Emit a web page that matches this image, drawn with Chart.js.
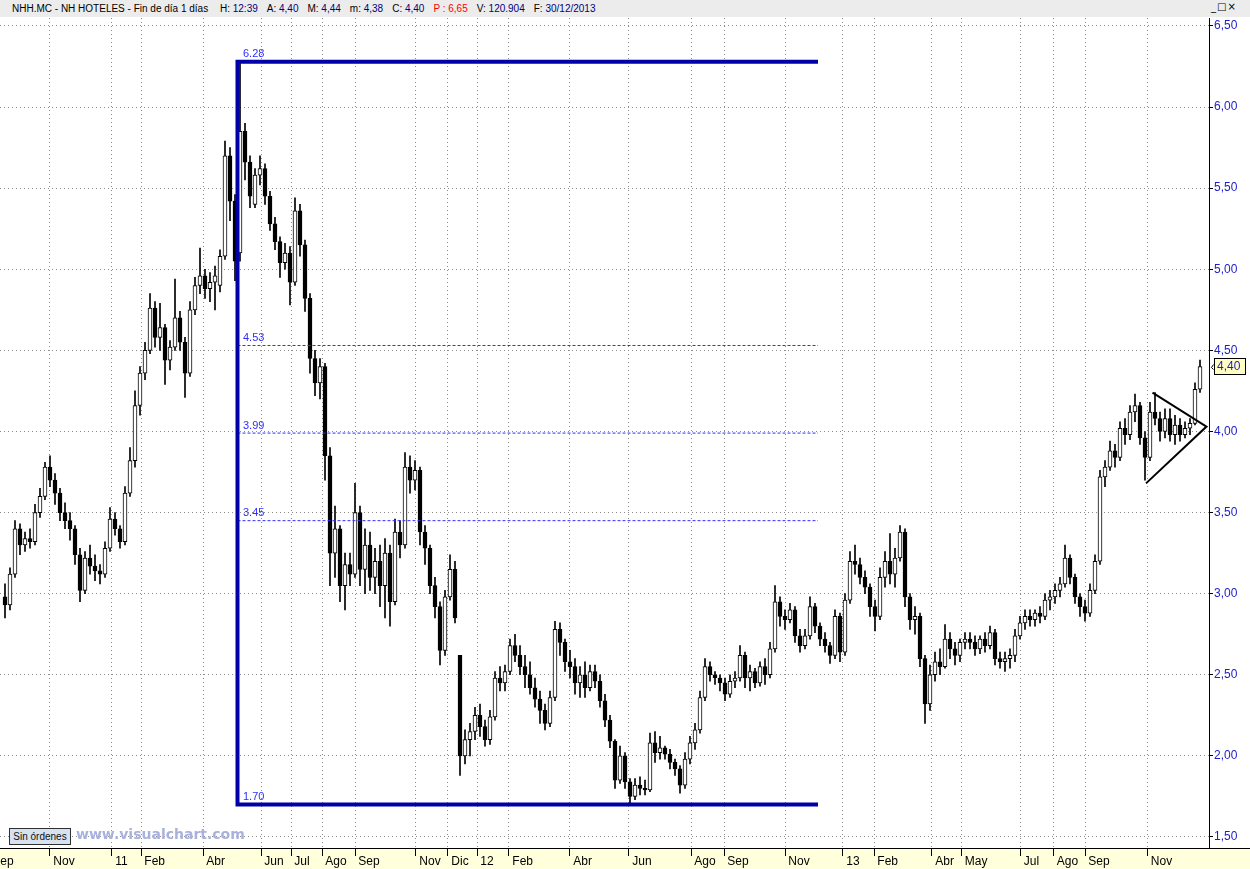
<!DOCTYPE html>
<html>
<head>
<meta charset="utf-8">
<script src="https://cdn.jsdelivr.net/npm/chart.js@4.4.0/dist/chart.umd.min.js"></script>
<style>
html,body{margin:0;padding:0;background:#fff;overflow:hidden;}
#wrap{position:relative;width:1250px;height:869px;}
#c{position:absolute;left:0;top:0;}
#hdr{position:absolute;left:0;top:0;width:1250px;height:17px;background:#ececec;font:10px "Liberation Sans",Arial,sans-serif;color:#000;white-space:nowrap;}
#hdr .t{position:absolute;left:12px;top:3px;}
#hdr .v{color:#000080;}
#hdr .r{color:#ff0000;}
#hdr .g{margin-left:9px;}
#btns{position:absolute;left:1211px;top:1px;font:10px "DejaVu Sans",sans-serif;color:#000;letter-spacing:1px;}
#sin{position:absolute;left:9px;top:828px;width:60px;height:15px;background:#d6e2ef;border:1px solid #303030;font:10px "Liberation Sans",Arial,sans-serif;line-height:15px;text-align:center;color:#101010;}
#wm{position:absolute;left:76px;top:826px;font:bold 14px "DejaVu Sans",sans-serif;color:#a9b2dd;}
</style>
</head>
<body>
<div id="wrap">
<canvas id="c" width="1250" height="869"></canvas>
<div id="hdr"><span class="t">NHH.MC - NH HOTELES - Fin de día 1 días <span class="g">H: <span class="v">12:39</span></span><span class="g">A: <span class="v">4,40</span></span><span class="g">M: <span class="v">4,44</span></span><span class="g">m: <span class="v">4,38</span></span><span class="g">C: <span class="v">4,40</span></span><span class="g r">P : 6,65</span><span class="g">V: <span class="v">120.904</span></span><span class="g">F: <span class="v">30/12/2013</span></span></span></div>
<div id="btns">_□×</div>
<div id="sin">Sin órdenes</div>
<div id="wm">www.visualchart.com</div>
</div>
<script>
// ---- DATA ----
const opens = [
2.98,2.93,3.12,3.40,3.30,3.34,3.32,3.50,3.60,3.78,
3.70,3.62,3.50,3.45,3.40,3.24,3.02,3.22,3.17,3.14,
3.12,3.28,3.46,3.40,3.32,3.62,3.82,4.16,4.36,4.50,
4.76,4.58,4.64,4.44,4.52,4.70,4.55,4.36,4.75,4.90,
4.96,4.88,4.92,4.90,5.08,5.70,5.42,5.10,5.85,5.66,
5.40,5.58,5.62,5.45,5.28,5.17,5.04,5.10,4.92,5.36,
5.15,4.82,4.45,4.30,4.40,3.85,3.25,3.40,3.05,3.18,
3.12,3.50,3.15,3.30,3.10,3.20,3.05,3.25,2.95,3.38,
3.30,3.78,3.70,3.76,3.38,3.28,3.05,2.92,2.65,2.98,
3.15,2.62,2.00,2.10,2.15,2.25,2.18,2.10,2.24,2.48,
2.45,2.52,2.68,2.62,2.55,2.50,2.42,2.35,2.28,2.20,
2.36,2.78,2.70,2.58,2.55,2.45,2.50,2.42,2.52,2.46,
2.34,2.22,2.09,1.85,2.00,1.84,1.75,1.82,1.80,1.79,
2.08,2.02,2.05,2.01,1.96,1.92,1.82,1.98,2.08,2.16,
2.36,2.55,2.50,2.48,2.45,2.38,2.46,2.48,2.62,2.48,
2.52,2.45,2.55,2.50,2.66,2.95,2.86,2.84,2.90,2.74,
2.68,2.74,2.92,2.80,2.72,2.68,2.62,2.86,2.64,2.96,
3.20,3.18,3.10,3.04,2.92,2.86,3.10,3.20,3.12,3.22,
3.38,2.98,2.84,2.86,2.60,2.32,2.50,2.58,2.55,2.72,
2.66,2.62,2.70,2.72,2.70,2.66,2.72,2.68,2.76,2.60,
2.58,2.60,2.62,2.74,2.82,2.86,2.84,2.88,2.86,2.96,
2.98,3.02,3.06,3.22,3.10,2.98,2.92,2.88,3.02,3.20,
3.72,3.78,3.88,3.84,4.02,3.98,4.12,4.16,3.96,3.84,
4.12,4.08,4.00,4.08,3.98,4.04,3.98,4.02,4.05,4.26];
const highs = [
3.06,3.16,3.45,3.43,3.38,3.40,3.55,3.65,3.81,3.85,
3.74,3.65,3.56,3.50,3.42,3.28,3.26,3.30,3.24,3.18,
3.32,3.53,3.50,3.42,3.66,3.90,4.25,4.40,4.55,4.85,
4.80,4.79,4.66,4.56,4.94,4.74,4.58,4.80,4.95,5.13,
5.00,4.98,5.02,5.12,5.79,5.75,5.46,6.28,5.90,5.70,
5.62,5.70,5.65,5.48,5.32,5.20,5.16,5.14,5.44,5.40,
5.18,4.85,4.50,4.45,4.42,3.90,3.54,3.42,3.25,3.25,
3.68,3.54,3.40,3.38,3.28,3.30,3.34,3.30,3.46,3.45,
3.87,3.85,3.82,3.78,3.42,3.30,3.10,2.95,3.02,3.24,
3.20,2.62,2.16,2.20,2.30,2.32,2.22,2.28,2.52,2.55,
2.56,2.72,2.75,2.68,2.62,2.58,2.48,2.40,2.32,2.40,
2.83,2.82,2.72,2.65,2.60,2.55,2.58,2.56,2.56,2.50,
2.38,2.25,2.10,2.06,2.02,1.86,1.86,1.87,1.85,2.14,
2.15,2.12,2.06,2.04,1.98,1.94,2.02,2.12,2.20,2.40,
2.60,2.58,2.52,2.50,2.48,2.50,2.52,2.68,2.64,2.56,
2.54,2.58,2.60,2.70,3.05,2.98,2.90,2.94,2.92,2.78,
2.78,2.98,2.94,2.82,2.76,2.70,2.90,2.88,3.00,3.26,
3.30,3.22,3.14,3.06,2.96,3.16,3.26,3.37,3.28,3.42,
3.40,3.00,2.92,2.88,2.62,2.56,2.64,2.66,2.81,2.76,
2.70,2.72,2.76,2.76,2.74,2.74,2.76,2.80,2.78,2.64,
2.64,2.66,2.78,2.86,2.90,2.90,2.90,2.92,3.00,3.02,
3.06,3.10,3.30,3.24,3.12,3.00,2.96,3.06,3.24,3.76,
3.82,3.94,3.92,4.06,4.08,4.16,4.23,4.18,4.00,4.18,
4.24,4.12,4.14,4.14,4.10,4.08,4.06,4.08,4.30,4.44];
const lows = [
2.85,2.90,3.10,3.24,3.26,3.28,3.30,3.47,3.58,3.66,
3.55,3.45,3.40,3.33,3.18,2.95,3.00,3.12,3.08,3.06,
3.10,3.26,3.36,3.28,3.30,3.60,3.78,4.10,4.32,4.48,
4.52,4.50,4.29,4.38,4.50,4.50,4.21,4.34,4.72,4.85,
4.82,4.80,4.75,4.86,5.06,5.30,4.93,5.05,5.55,5.38,
5.38,5.52,5.40,5.24,5.12,4.95,5.00,4.78,4.90,5.08,
4.74,4.36,4.22,4.20,3.70,3.05,3.10,2.95,2.90,3.05,
3.10,3.05,3.00,3.02,3.00,2.92,2.85,2.80,2.93,3.22,
3.28,3.62,3.64,3.30,3.18,3.00,2.85,2.56,2.62,2.96,
2.82,1.88,1.95,2.00,2.10,2.12,2.06,2.07,2.22,2.40,
2.40,2.50,2.58,2.50,2.42,2.38,2.30,2.20,2.16,2.18,
2.34,2.62,2.52,2.48,2.38,2.36,2.36,2.40,2.42,2.30,
2.18,2.05,1.80,1.83,1.80,1.70,1.73,1.76,1.76,1.78,
1.96,1.98,1.98,1.92,1.88,1.77,1.80,1.95,2.04,2.14,
2.34,2.46,2.44,2.40,2.34,2.36,2.42,2.46,2.42,2.40,
2.42,2.43,2.44,2.48,2.64,2.80,2.78,2.82,2.70,2.64,
2.66,2.72,2.76,2.68,2.64,2.57,2.60,2.58,2.62,2.94,
3.12,3.06,3.00,2.86,2.77,2.84,3.04,3.06,3.04,3.20,
2.92,2.78,2.75,2.55,2.20,2.28,2.46,2.50,2.54,2.60,
2.56,2.58,2.66,2.66,2.62,2.63,2.64,2.66,2.56,2.54,
2.52,2.54,2.58,2.72,2.78,2.80,2.80,2.82,2.84,2.90,
2.94,2.98,3.04,3.06,2.94,2.86,2.83,2.86,3.00,3.18,
3.66,3.76,3.78,3.82,3.92,3.95,4.06,3.92,3.70,3.82,
4.04,3.94,3.96,3.94,3.92,3.94,3.96,3.98,4.04,4.24];
const closes = [
2.93,3.12,3.40,3.30,3.34,3.32,3.50,3.60,3.78,3.70,
3.62,3.50,3.45,3.40,3.24,3.02,3.22,3.17,3.14,3.12,
3.28,3.46,3.40,3.32,3.62,3.82,4.16,4.36,4.50,4.76,
4.58,4.64,4.44,4.52,4.70,4.55,4.36,4.75,4.90,4.96,
4.88,4.92,4.96,5.08,5.70,5.42,5.05,5.85,5.66,5.45,
5.58,5.62,5.45,5.28,5.17,5.04,5.10,4.92,5.36,5.15,
4.82,4.45,4.30,4.40,3.85,3.25,3.40,3.05,3.18,3.12,
3.50,3.15,3.30,3.10,3.20,3.05,3.25,2.95,3.38,3.30,
3.78,3.70,3.76,3.38,3.28,3.05,2.92,2.65,2.98,3.15,
2.85,2.00,2.10,2.15,2.25,2.18,2.10,2.24,2.48,2.45,
2.52,2.68,2.62,2.55,2.50,2.42,2.35,2.28,2.20,2.36,
2.78,2.70,2.58,2.55,2.45,2.50,2.42,2.52,2.46,2.34,
2.22,2.09,1.85,2.00,1.84,1.75,1.82,1.80,1.79,2.08,
2.02,2.05,2.01,1.96,1.92,1.82,1.98,2.08,2.16,2.36,
2.55,2.50,2.48,2.45,2.38,2.46,2.48,2.62,2.48,2.52,
2.45,2.55,2.50,2.66,2.95,2.86,2.84,2.90,2.74,2.68,
2.74,2.92,2.80,2.72,2.68,2.62,2.86,2.64,2.96,3.20,
3.18,3.10,3.04,2.92,2.86,3.10,3.20,3.12,3.22,3.38,
2.98,2.84,2.86,2.60,2.32,2.50,2.58,2.55,2.72,2.66,
2.62,2.70,2.72,2.70,2.66,2.72,2.68,2.76,2.60,2.58,
2.60,2.62,2.74,2.82,2.86,2.84,2.88,2.86,2.96,2.98,
3.02,3.06,3.22,3.10,2.98,2.92,2.88,3.02,3.20,3.72,
3.78,3.88,3.84,4.02,3.98,4.12,4.16,3.96,3.84,4.12,
4.08,4.00,4.08,3.98,4.04,3.98,4.02,4.05,4.26,4.40];

// month ticks (positions in candle-index units) and labels
const monthPos = [-3.2,9.0,21.4,27.2,39.6,51.2,57.2,63.4,70.0,82.2,88.6,94.4,100.8,113.0,124.8,137.2,143.8,156.0,167.6,173.8,185.4,191.3,203.1,209.7,216.0,228.5];
const monthLabels = ['Sep','Nov','11','Feb','Abr','Jun','Jul','Ago','Sep','Nov','Dic','12','Feb','Abr','Jun','Ago','Sep','Nov','13','Feb','Abr','May','Jul','Ago','Sep','Nov'];
const yTicks = [1.5,2.0,2.5,3.0,3.5,4.0,4.5,5.0,5.5,6.0,6.5];
const yTickLabels = ['1,50','2,00','2,50','3,00','3,50','4,00','4,50','5,00','5,50','6,00','6,50'];

// Fibonacci retracement drawing
const fibLevels = [6.28, 4.53, 3.99, 3.45, 1.70];
const fibFrom = 46.5, fibTo = 162.6;
// triangle drawing (candle index, price)
const triX = [229.5, 240.3, 228.2];
const triY = [4.24, 4.03, 3.68];
const lastPrice = 4.40, lastPriceLabel = '4,40';

// ---- BUILD ----
const bodies = closes.map((c,i)=>({x:i, y:[Math.min(opens[i],c), Math.max(opens[i],c)]}));
const wicks = closes.map((c,i)=>({x:i, y:[lows[i], highs[i]]}));
const bodyColors = closes.map((c,i)=> c>=opens[i] ? '#ffffff' : '#000000');

const fibFrame = [{x:fibTo,y:fibLevels[0]},{x:fibFrom,y:fibLevels[0]},{x:fibFrom,y:fibLevels[4]},{x:fibTo,y:fibLevels[4]}];
const dashed = fibLevels.slice(1,4).map(l=>({
  type:'line', data:[{x:fibFrom,y:l},{x:fibTo,y:l}], borderColor:'#3030ff', borderWidth:1,
  borderDash:[3,2], pointRadius:0, fill:false, tension:0
}));

const chrome = {
  id:'chrome',
  beforeDraw(chart){
    const {ctx,width,height} = chart;
    const xa = chart.scales.x;
    ctx.save();
    ctx.fillStyle='#ffffff'; ctx.fillRect(0,0,width,height);
    ctx.fillStyle='#ffffdc'; ctx.fillRect(0,xa.top,width,height-xa.top);
    ctx.restore();
  },
  afterDraw(chart){
    const {ctx,width} = chart;
    const xa = chart.scales.x, ya = chart.scales.y;
    ctx.save();
    ctx.strokeStyle='#000'; ctx.lineWidth=1;
    const by = Math.round(xa.top)+0.5;
    ctx.beginPath(); ctx.moveTo(0,by); ctx.lineTo(width,by); ctx.stroke();
    // fib labels
    ctx.font='11px "Liberation Sans", Arial, sans-serif';
    ctx.fillStyle='#2e2eff'; ctx.textBaseline='alphabetic'; ctx.textAlign='left';
    const fx = xa.getPixelForValue(fibFrom)+5.5;
    fibLevels.forEach(l=>ctx.fillText(l.toFixed(2), fx, ya.getPixelForValue(l)-4.5));
    // last price tag
    const py = Math.round(ya.getPixelForValue(lastPrice));
    ctx.fillStyle='#ffffc4';
    ctx.fillRect(1214.5, py-8.5, 31, 16);
    ctx.strokeStyle='#000'; ctx.strokeRect(1214.5, py-8.5, 31, 16);
    ctx.fillStyle='#1c1cc8'; ctx.font='12px "Liberation Sans", Arial, sans-serif';
    ctx.textBaseline='middle';
    ctx.fillText(lastPriceLabel, 1217, py);
    ctx.strokeStyle='#000';
    ctx.beginPath(); ctx.moveTo(1213.5,py-2.5); ctx.lineTo(1211.5,py+0.5); ctx.lineTo(1213.5,py+2.5); ctx.stroke();
    ctx.restore();
  }
};

new Chart(document.getElementById('c'), {
  type:'bar',
  data:{
    datasets:[
      {type:'line', data:fibFrame, borderColor:'#0000a8', borderWidth:4, pointRadius:0, fill:false, tension:0, borderJoinStyle:'miter', borderCapStyle:'butt'},
      ...dashed,
      {type:'line', data:triX.map((x,i)=>({x, y:triY[i]})), borderColor:'#000000', borderWidth:2, pointRadius:0, fill:false, tension:0},
      {type:'bar', data:bodies, backgroundColor:bodyColors, borderColor:'#000000', borderWidth:1, borderSkipped:false, barThickness:4, grouped:false},
      {type:'bar', data:wicks, backgroundColor:'#000000', borderWidth:0, barThickness:1, grouped:false}
    ]
  },
  options:{
    responsive:false, animation:false, devicePixelRatio:1,
    layout:{padding:{top:18,left:0,right:0,bottom:0}},
    plugins:{legend:{display:false}, tooltip:{enabled:false}},
    scales:{
      x:{
        type:'linear', position:'bottom', min:-1, max:240.8, offset:false,
        afterBuildTicks(s){ s.ticks = monthPos.map(v=>({value:v})); },
        afterFit(s){ s.height = 21; s.paddingLeft = 0; s.paddingRight = 0; },
        grid:{color:'#8c8c8c', lineWidth:1, drawTicks:true, tickLength:8, tickColor:'#000', tickWidth:1, tickBorderDash:[], offset:false},
        border:{display:true, color:'#000', width:1, dash:[1,3]},
        ticks:{autoSkip:false, maxRotation:0, minRotation:0, align:'start', padding:-2, color:'#000',
          font:{family:'"Liberation Sans", Arial, sans-serif', size:12},
          callback:(v,i)=>' '+monthLabels[i]}
      },
      y:{
        type:'linear', position:'right', min:1.432, max:6.549,
        afterBuildTicks(s){ s.ticks = yTicks.map(v=>({value:v})); },
        afterFit(s){ s.width = 41; s.paddingTop = 0; s.paddingBottom = 0; },
        grid:{color:'#8c8c8c', lineWidth:1, drawTicks:true, tickLength:4, tickColor:'#000', tickWidth:1, tickBorderDash:[]},
        border:{display:true, color:'#000', width:1, dash:[1,3]},
        ticks:{padding:1, color:'#1c1cc8', font:{family:'"Liberation Sans", Arial, sans-serif', size:12},
          callback:(v,i)=>yTickLabels[i]}
      }
    }
  },
  plugins:[chrome]
});
</script>
</body>
</html>
